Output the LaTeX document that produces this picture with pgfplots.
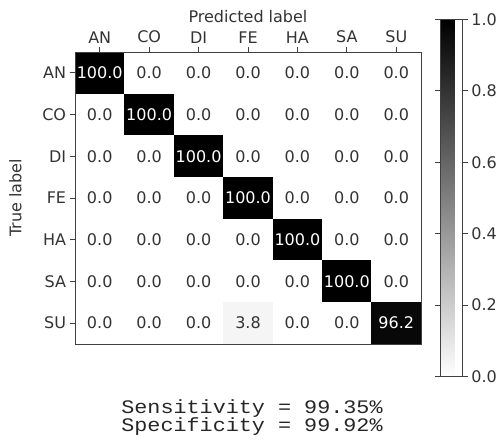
\documentclass[border=0pt]{standalone}
\usepackage{pgfplots}
\pgfplotsset{compat=1.18}
\usepackage{pgfplotstable}
\usepackage{fontspec}
\setmainfont{DejaVu Sans}
\setmonofont[FakeStretch=1.14]{Liberation Mono}
\definecolor{txt}{HTML}{333333}

\pgfplotstableread{
x y c
0 0 1
1 0 0
2 0 0
3 0 0
4 0 0
5 0 0
6 0 0
0 1 0
1 1 1
2 1 0
3 1 0
4 1 0
5 1 0
6 1 0
0 2 0
1 2 0
2 2 1
3 2 0
4 2 0
5 2 0
6 2 0
0 3 0
1 3 0
2 3 0
3 3 1
4 3 0
5 3 0
6 3 0
0 4 0
1 4 0
2 4 0
3 4 0
4 4 1
5 4 0
6 4 0
0 5 0
1 5 0
2 5 0
3 5 0
4 5 0
5 5 1
6 5 0
0 6 0
1 6 0
2 6 0
3 6 0.038
4 6 0
5 6 0
6 6 0.962
}\cmdata

\pgfplotstableread{
x y lab
0 0 100.0
1 1 100.0
2 2 100.0
3 3 100.0
4 4 100.0
5 5 100.0
6 6 96.2
}\diagdata

\pgfplotstableread{
x y lab
1 0 0.0
2 0 0.0
3 0 0.0
4 0 0.0
5 0 0.0
6 0 0.0
0 1 0.0
2 1 0.0
3 1 0.0
4 1 0.0
5 1 0.0
6 1 0.0
0 2 0.0
1 2 0.0
3 2 0.0
4 2 0.0
5 2 0.0
6 2 0.0
0 3 0.0
1 3 0.0
2 3 0.0
4 3 0.0
5 3 0.0
6 3 0.0
0 4 0.0
1 4 0.0
2 4 0.0
3 4 0.0
5 4 0.0
6 4 0.0
0 5 0.0
1 5 0.0
2 5 0.0
3 5 0.0
4 5 0.0
6 5 0.0
0 6 0.0
1 6 0.0
2 6 0.0
3 6 3.8
4 6 0.0
5 6 0.0
}\offdata

\begin{document}
\begin{tikzpicture}[font=\fontsize{16bp}{19bp}\selectfont]
\useasboundingbox (-75bp,-101bp) rectangle (428bp,344bp);
\begin{axis}[
  name=cm, at={(0,0)}, anchor=south west,
  scale only axis, width=346bp, height=292bp,
  xmin=-0.5, xmax=6.5, ymin=-0.5, ymax=6.5, y dir=reverse,
  axis on top,
  axis line style={line width=0.9bp, black!75},
  xtick={0,...,6}, ytick={0,...,6},
  xticklabels={AN,CO,DI,FE,HA,SA,SU},
  yticklabels={AN,CO,DI,FE,HA,SA,SU},
  xticklabel pos=right, xtick pos=right, ytick pos=left,
  tick align=outside, major tick length=5.4bp,
  tick style={line width=0.9bp, black!75},
  xlabel={Predicted label}, ylabel={True label},
  xlabel style={yshift=1bp},
  ylabel style={at={(axis description cs:-0.2,0.5)}, anchor=north},
  tick label style={text=txt}, label style={text=txt},
  colormap={grayr}{gray(0cm)=(1); gray(1cm)=(0)},
  point meta min=0, point meta max=1,
  colorbar,
  colorbar style={
    at={(parent axis.east)}, anchor=west, xshift=11bp,
    scale only axis, width=22bp, height=357bp,
    y dir=normal,
    ytick={0,0.2,0.4,0.6,0.8,1.0},
    yticklabel style={/pgf/number format/.cd, fixed, fixed zerofill, precision=1, assume math mode=true},
    tick align=outside, major tick length=5.4bp,
    axis line style={line width=0.9bp, black!75},
    tick style={line width=0.9bp, black!75},
    tick label style={text=txt},
  },
]
\addplot[matrix plot*, mesh/cols=7, mesh/rows=7, point meta=explicit] table[x=x, y=y, meta=c] {\cmdata};
\addplot[only marks, mark=none, point meta=explicit symbolic, nodes near coords,
  every node near coord/.append style={anchor=center, text=white}] table[x=x, y=y, meta=lab] {\diagdata};
\addplot[only marks, mark=none, point meta=explicit symbolic, nodes near coords,
  every node near coord/.append style={anchor=center, text=txt}] table[x=x, y=y, meta=lab] {\offdata};
\end{axis}
\node[font=\ttfamily\fontsize{19.1bp}{22bp}\selectfont, anchor=base, text=black!85] at (177bp,-69.3bp) {Sensitivity = 99.35\%};
\node[font=\ttfamily\fontsize{19.1bp}{22bp}\selectfont, anchor=base, text=black!85] at (177bp,-87.9bp) {Specificity = 99.92\%};
\end{tikzpicture}
\end{document}
